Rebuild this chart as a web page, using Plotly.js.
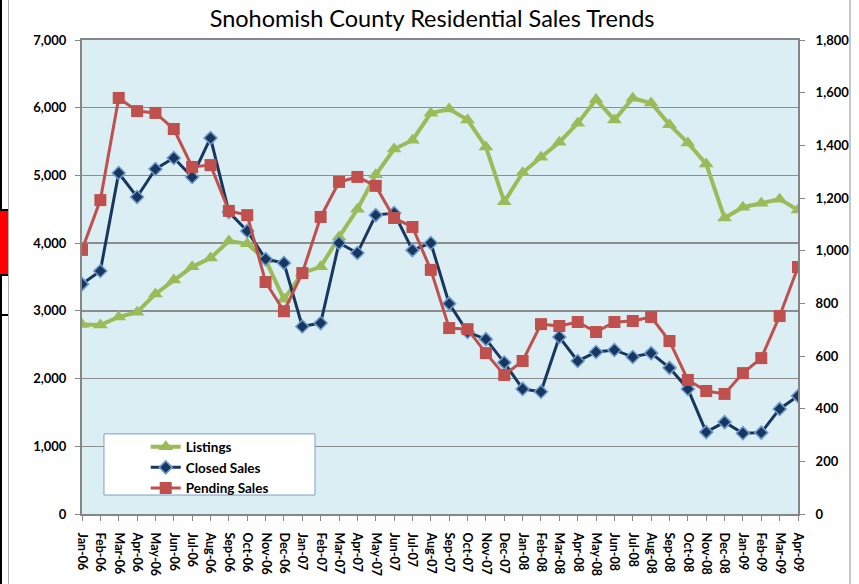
<!DOCTYPE html>
<html>
<head>
<meta charset="utf-8">
<script src="https://cdn.plot.ly/plotly-3.0.1.min.js"></script>
<style>
  html, body { margin: 0; padding: 0; background: #ffffff; }
  #wrap { position: relative; width: 859px; height: 584px; overflow: hidden; }
  #chart { position: absolute; left: 0; top: 0; width: 859px; height: 584px; }
  .deco { position: absolute; pointer-events: none; }
</style>
</head>
<body>
<div id="wrap">
  <div id="chart"></div>
  <div class="deco" style="left:0;top:0;width:2px;height:584px;background:#000;"></div>
  <div class="deco" style="left:8px;top:0;width:1px;height:584px;background:#b0b0b0;"></div>
  <div class="deco" style="left:0;top:209px;width:8px;height:67px;background:#ff0000;border-top:2px solid #000;border-bottom:2px solid #000;box-sizing:border-box;"></div>
  <div class="deco" style="left:0;top:314px;width:8px;height:2px;background:#000;"></div>
  <div class="deco" style="left:849px;top:0;width:2px;height:584px;background:#c8c8c8;"></div>
</div>
<script>
const months = ["Jan-06","Feb-06","Mar-06","Apr-06","May-06","Jun-06","Jul-06","Aug-06","Sep-06","Oct-06","Nov-06","Dec-06",
                "Jan-07","Feb-07","Mar-07","Apr-07","May-07","Jun-07","Jul-07","Aug-07","Sep-07","Oct-07","Nov-07","Dec-07",
                "Jan-08","Feb-08","Mar-08","Apr-08","May-08","Jun-08","Jul-08","Aug-08","Sep-08","Oct-08","Nov-08","Dec-08",
                "Jan-09","Feb-09","Mar-09","Apr-09"];

const listings = [2800, 2790, 2910, 2980, 3250, 3455, 3650, 3780, 4030, 3990, 3750, 3170,
                  3560, 3650, 4090, 4500, 5010, 5390, 5520, 5920, 5980, 5820, 5420, 4610,
                  5040, 5270, 5490, 5770, 6120, 5820, 6140, 6070, 5750, 5480, 5170, 4370,
                  4530, 4590, 4650, 4490];

const closedSales = [873, 923, 1295, 1204, 1310, 1352, 1280, 1428, 1147, 1075, 968, 953,
                     712, 725, 1029, 991, 1135, 1143, 1002, 1029, 799, 691, 664, 575,
                     475, 464, 672, 581, 615, 623, 596, 611, 555, 475, 311, 349,
                     307, 309, 399, 448];

const pendingSales = [1003, 1192, 1580, 1530, 1523, 1462, 1318, 1325, 1151, 1135, 881, 770,
                      915, 1128, 1261, 1280, 1246, 1124, 1090, 927, 706, 702, 611, 528,
                      581, 721, 714, 729, 691, 729, 733, 748, 657, 509, 467, 456,
                      535, 592, 752, 938];

const FONT = "Lato, 'Open Sans', sans-serif";

const traces = [
  {
    x: months, y: listings, name: "Listings", type: "scatter", mode: "lines+markers",
    yaxis: "y",
    line: { color: "#9BBB59", width: 4 },
    marker: { symbol: "triangle-up", size: 13, color: "#9BBB59" }
  },
  {
    x: months, y: closedSales, name: "Closed Sales", type: "scatter", mode: "lines+markers",
    yaxis: "y2",
    line: { color: "#17375E", width: 3 },
    marker: { symbol: "diamond", size: 10, color: "#17375E", line: { color: "#6F9BD1", width: 1.5 } }
  },
  {
    x: months, y: pendingSales, name: "Pending Sales", type: "scatter", mode: "lines+markers",
    yaxis: "y2",
    line: { color: "#C0504D", width: 3 },
    marker: { symbol: "square", size: 12, color: "#C0504D" }
  }
];

const layout = {
  width: 859, height: 584,
  margin: { l: 82, r: 61, t: 40, b: 70 },
  paper_bgcolor: "#ffffff",
  plot_bgcolor: "#DAEEF3",
  font: { family: FONT, color: "#000" },
  title: {
    text: "Snohomish County Residential Sales Trends",
    font: { family: FONT, size: 23.5, color: "#000" },
    x: 0.503, xanchor: "center",
    y: 0.967, yref: "container", yanchor: "middle"
  },
  showlegend: true,
  legend: {
    x: 0.089, xanchor: "left",
    y: 0.174, yanchor: "top",
    bgcolor: "rgba(0,0,0,0)",
    borderwidth: 0,
    font: { family: FONT, size: 13.5, color: "#000", weight: "bold" },
    tracegroupgap: 0
  },
  xaxis: {
    type: "category",
    range: [0, 39],
    tickangle: 90,
    tickfont: { family: FONT, size: 12.5, color: "#000", weight: "bold" },
    ticks: "outside", ticklen: 5, tickcolor: "#868686", tickwidth: 1,
    ticklabelstandoff: 9,
    showline: true, linecolor: "#868686", linewidth: 2,
    mirror: true,
    showgrid: false, zeroline: false
  },
  yaxis: {
    range: [0, 7000], dtick: 1000, tickformat: ",d",
    tickfont: { family: FONT, size: 13, color: "#000", weight: "bold" },
    ticks: "outside", ticklen: 5, tickcolor: "#868686", tickwidth: 1,
    ticklabelstandoff: 6,
    showline: true, linecolor: "#868686", linewidth: 2,
    showgrid: true, gridcolor: "#8C8C8C", gridwidth: 1.5,
    zeroline: false
  },
  yaxis2: {
    overlaying: "y", side: "right",
    range: [0, 1800], dtick: 200, tickformat: ",d",
    tickfont: { family: FONT, size: 13, color: "#000", weight: "bold" },
    ticks: "outside", ticklen: 5, tickcolor: "#868686", tickwidth: 1,
    ticklabelstandoff: 8,
    showline: true, linecolor: "#868686", linewidth: 2,
    showgrid: false, zeroline: false
  },
  shapes: [
    {
      type: "rect", xref: "paper", yref: "paper",
      x0: 0.0307, x1: 0.3254, y0: 0.040, y1: 0.169,
      fillcolor: "#ffffff", line: { color: "#7BA0CD", width: 1 },
      layer: "above"
    }
  ]
};

Plotly.newPlot("chart", traces, layout, { displayModeBar: false, staticPlot: true });
</script>
</body>
</html>
